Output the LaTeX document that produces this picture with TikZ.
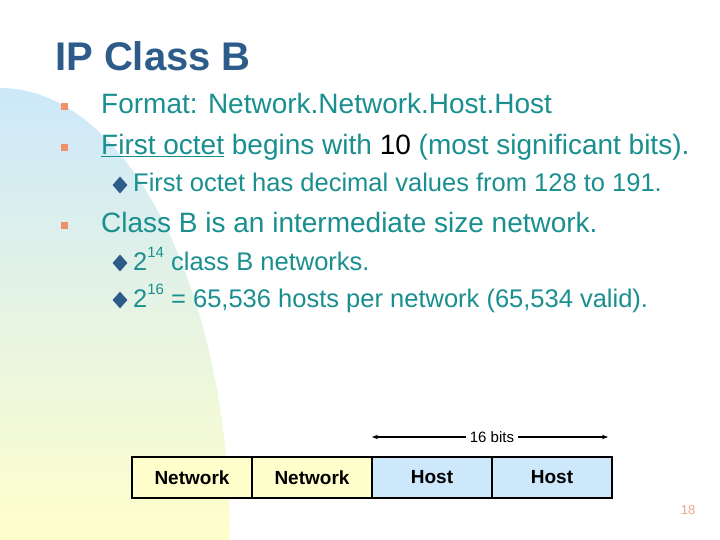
\documentclass[tikz,border=0pt]{standalone}
\usepackage{fontspec}
\setmainfont{Liberation Sans}
\usetikzlibrary{arrows.meta,shapes.geometric}
\definecolor{ttl}{HTML}{2E5C8A}
\definecolor{txt}{HTML}{1A8F8F}
\definecolor{bul}{HTML}{F0906A}
\definecolor{dia}{HTML}{2E5C8A}
\definecolor{yel}{HTML}{FFFFCC}
\definecolor{blu}{HTML}{CCE8FA}
\definecolor{pg}{HTML}{E8A888}
\newcommand{\sups}[1]{\raisebox{0.5em}{\fontsize{15}{18}\selectfont #1}}
\begin{document}
\begin{tikzpicture}[x=1pt,y=-1pt,
  body/.style={anchor=base west,inner sep=0pt,text=txt,font=\fontsize{28}{32}\selectfont},
  sub/.style={anchor=base west,inner sep=0pt,text=txt,font=\fontsize{25.5}{30}\selectfont},
  sq/.style={fill=bul,minimum size=7pt,inner sep=0pt},
  dm/.style={diamond,fill=dia,minimum width=15pt,minimum height=17pt,inner sep=0pt},
  cell/.style={draw=black,line width=2.5pt,minimum width=120pt,minimum height=41pt,inner sep=0pt,font=\fontsize{19}{22}\selectfont\bfseries}]
\useasboundingbox (0,0) rectangle (720,540);
\fill[white] (0,0) rectangle (720,540);
\begin{scope}
\clip (0,540) -- (0,88) arc[start angle=-90,end angle=0,x radius=230,y radius=452] -- cycle;
\shade[top color=blu,bottom color=yel] (0,88) rectangle (232,540);
\end{scope}
\node[anchor=base west,inner sep=0pt,text=ttl,font=\fontsize{40}{44}\selectfont\bfseries] (title) at (55,71) {IP Class B};
\node[sq] (b1) at (64,107) {};
\node[body] (t1) at (101,114) {Format: Network.Network.Host.Host};
\node[sq] (b2) at (64,148) {};
\node[body] (t2) at (101,155) {\underline{First octet} begins with \textcolor{black}{10} (most significant bits).};
\node[dm] (d1) at (120,185) {};
\node[sub] (s1) at (133,192) {First octet has decimal values from 128 to 191.};
\node[sq] (b3) at (64,226) {};
\node[body] (t3) at (101,233) {Class B is an intermediate size network.};
\node[dm] (d2) at (120,263) {};
\node[sub] (s2) at (133,270) {2\sups{14} class B networks.};
\node[dm] (d3) at (120,300) {};
\node[sub] (s3) at (133,307) {2\sups{16} = 65,536 hosts per network (65,534 valid).};
\node[cell,fill=yel] (c1) at (192,477.5) {Network};
\node[cell,fill=yel] (c2) at (312,477.5) {Network};
\node[cell,fill=blu] (c3) at (432,477.5) {Host};
\node[cell,fill=blu] (c4) at (552,477.5) {Host};
\node[font=\fontsize{15}{17}\selectfont,inner sep=4pt] (bits) at (492,437) {16 bits};
\coordinate (al) at (372,437);
\coordinate (ar) at (608,437);
\draw[line width=1.2pt,-{Stealth[length=6pt]}] (bits.west) -- (al);
\draw[line width=1.2pt,-{Stealth[length=6pt]}] (bits.east) -- (ar);
\node[text=pg,font=\fontsize{13}{15}\selectfont] (pnum) at (688,510) {18};
\end{tikzpicture}
\end{document}
